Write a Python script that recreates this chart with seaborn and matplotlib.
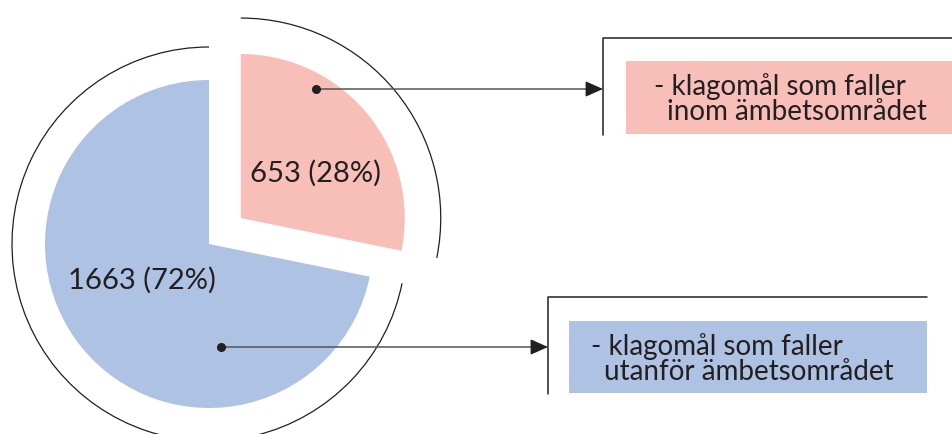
import seaborn as sns
import matplotlib.pyplot as plt
from matplotlib.patches import Arc, Rectangle

# data
counts = [653, 1663]
shares = [28, 72]
line1 = ["- klagomål som faller", "- klagomål som faller"]
line2 = ["inom ämbetsområdet", "utanför ämbetsområdet"]
colors = ["#F8BEB8", "#AEC2E4"]

sns.set_theme(style="white")
plt.rcParams['font.family'] = ['Lato', 'DejaVu Sans']

fig = plt.figure(figsize=(9.52, 4.35), dpi=100)
ax = fig.add_axes([0, 0, 1, 1])

# pie in pixel-like units (y up)
center = (209, 190)
radius = 164
wedges, _ = ax.pie(counts, colors=sns.color_palette(colors), startangle=90,
                   counterclock=False, explode=[41, 0], radius=radius,
                   center=center, wedgeprops=dict(linewidth=0))

# value labels
label_pos = [(315, 262), (142, 155)]
for n, s, pos in zip(counts, shares, label_pos):
    ax.text(pos[0], pos[1], "%d (%d%%)" % (n, s), ha="center", va="center",
            fontsize=21, color="#231f20")

# outer arcs following each wedge
arc_r = [200, 197]
for w, r in zip(wedges, arc_r):
    ax.add_patch(Arc(w.center, 2 * r, 2 * r, theta1=w.theta1, theta2=w.theta2,
                     color="#231f20", lw=0.9))

# pointers, brackets and legend boxes
dots = [(316, 345), (221, 87)]
bracket_x = [603, 548]
bracket_y = [(299, 396), (40, 137)]
bracket_end = [952, 927]
boxes = [(626, 300, 330, 73), (569, 41, 358, 72)]
text_x = [(654, 667), (591, 604)]
text_y = [(348, 323), (88, 63)]

for i in range(2):
    dx, dy = dots[i]
    ax.plot([dx, bracket_x[i] - 12], [dy, dy], color="#555555", lw=1.1)
    ax.plot(dx, dy, "o", color="#231f20", ms=5.5)
    ax.annotate("", xy=(bracket_x[i], dy), xytext=(bracket_x[i] - 14, dy),
                arrowprops=dict(arrowstyle="-|>,head_length=0.9,head_width=0.4",
                                color="#231f20", lw=1.0, shrinkA=0, shrinkB=0))
    ax.plot([bracket_x[i], bracket_x[i], bracket_end[i]],
            [bracket_y[i][0], bracket_y[i][1], bracket_y[i][1]],
            color="#231f20", lw=1.1)
    bx, by, bw, bh = boxes[i]
    ax.add_patch(Rectangle((bx, by), bw, bh, color=colors[i], lw=0))
    ax.text(text_x[i][0], text_y[i][0], line1[i], ha="left", va="center",
            fontsize=20, color="#231f20")
    ax.text(text_x[i][1], text_y[i][1], line2[i], ha="left", va="center",
            fontsize=20, color="#231f20")

ax.set_xlim(0, 952)
ax.set_ylim(0, 435)
ax.set_aspect("auto")
ax.axis("off")

fig.savefig("out.png", dpi=100)
